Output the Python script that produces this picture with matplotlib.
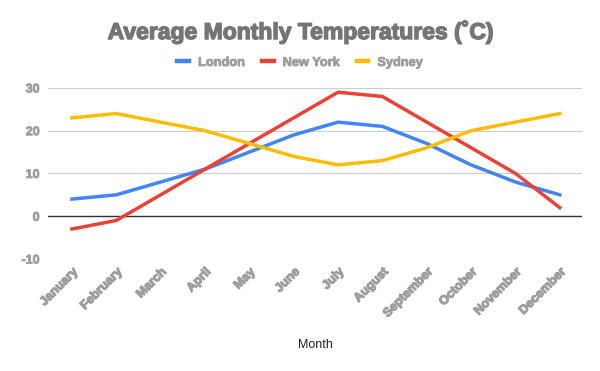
import matplotlib.pyplot as plt
import matplotlib.patheffects as pe

months = ['January', 'February', 'March', 'April', 'May', 'June',
          'July', 'August', 'September', 'October', 'November', 'December']
london = [4, 5, 8, 11, 15, 19, 22, 21, 17, 12, 8, 5]
new_york = [-3, -1, 5, 11, 17, 23, 29, 28, 22, 16, 10, 2]
sydney = [23, 24, 22, 20, 17, 14, 12, 13, 16, 20, 22, 24]

series = [('London', london, '#4285F4'),
          ('New York', new_york, '#EA4335'),
          ('Sydney', sydney, '#FBBC04')]

plt.rcParams['font.family'] = ['Liberation Sans', 'DejaVu Sans']
plt.rcParams['axes.unicode_minus'] = False


def heavy(color, w=0.7):
    # fake a heavier weight than Liberation Sans Bold
    return [pe.withStroke(linewidth=w, foreground=color)]


fig = plt.figure(figsize=(6, 3.71), dpi=100)
ax = fig.add_axes([0.08, 0.302, 0.89, 0.461])

x = range(len(months))
for name, values, color in series:
    ax.plot(x, values, color=color, linewidth=2.5, label=name)

ax.set_ylim(-10, 30)
ax.set_xlim(-0.54, 11.5)
ax.set_yticks([-10, 0, 10, 20, 30])
ax.grid(axis='y', color='#cccccc', linewidth=0.8)
ax.axhline(0, color='#333333', linewidth=1, zorder=1)
ax.set_axisbelow(True)
for s in ax.spines.values():
    s.set_visible(False)
ax.tick_params(length=0, colors='#9e9e9e', labelsize=9)
ax.tick_params(axis='y', pad=6)
for lab in ax.get_yticklabels():
    lab.set_fontweight('bold')
    lab.set_path_effects(heavy('#9e9e9e', 0.6))

ax.set_xticks(list(x))
ax.set_xticklabels(months, rotation=45, ha='right', rotation_mode='anchor',
                   fontweight='bold', color='#9e9e9e', fontsize=9)
for lab in ax.get_xticklabels():
    lab.set_path_effects(heavy('#9e9e9e', 0.8))
ax.tick_params(axis='x', pad=5)

ax.set_xlabel('Month', fontsize=9, color='#222222', labelpad=14)

fig.text(0.5, 0.915, 'Average Monthly Temperatures (\u02daC)', ha='center', va='center',
         fontsize=16.5, fontweight='bold', color='#757575',
         path_effects=heavy('#757575', 1.0))

leg = ax.legend(loc='center', bbox_to_anchor=(0.472, 1.146), ncol=3, frameon=False,
                handlelength=0.93, handletextpad=0.7, columnspacing=1.32,
                borderpad=0, prop={'weight': 'bold', 'size': 9.2})
for t in leg.get_texts():
    t.set_color('#9e9e9e')
    t.set_path_effects(heavy('#9e9e9e', 0.6))
for h in leg.get_lines():
    h.set_linewidth(3.2)

fig.savefig('out.png', dpi=100)
